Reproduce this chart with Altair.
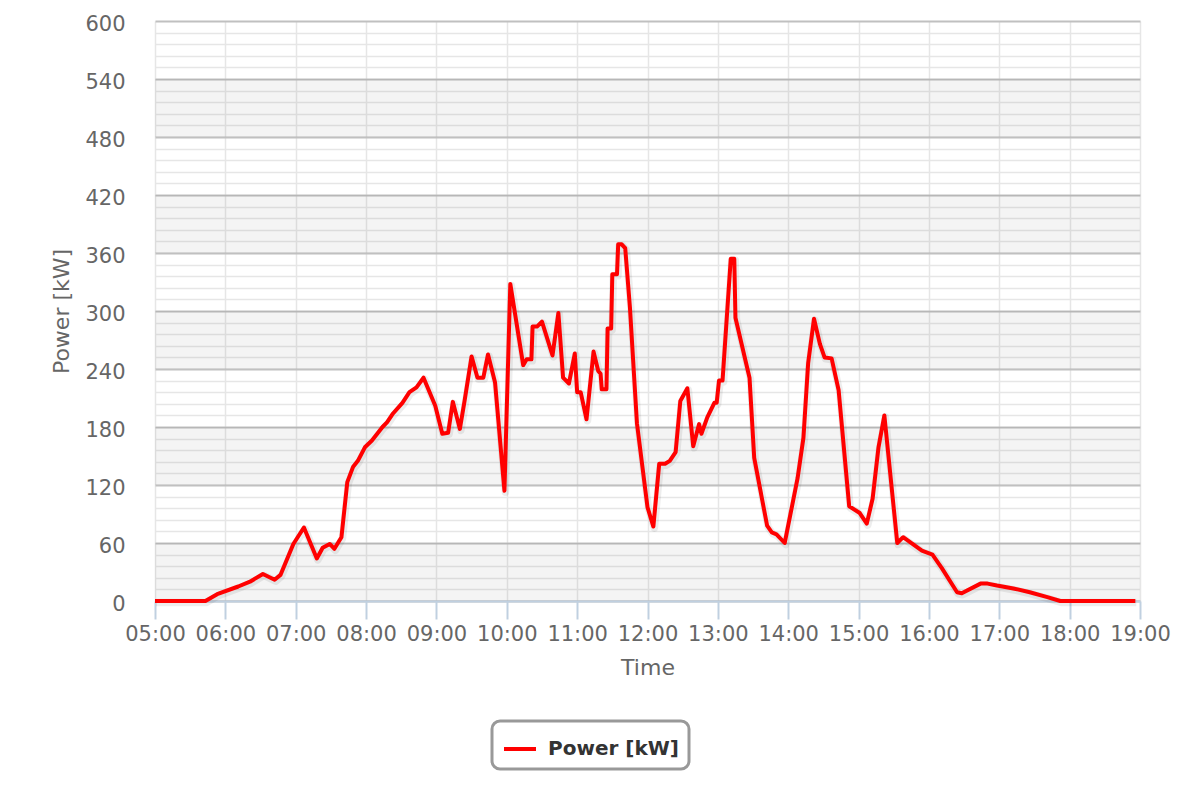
import altair as alt
import pandas as pd

# ---- data ----
times = [
    "05:00", "05:43", "05:53", "06:11", "06:21", "06:32", "06:42", "06:47", "06:58", "07:07",
    "07:18", "07:23", "07:29", "07:33", "07:39", "07:44", "07:49", "07:53", "07:59", "08:05",
    "08:14", "08:18", "08:23", "08:31", "08:37", "08:43", "08:49", "08:59", "09:05", "09:10",
    "09:14", "09:20", "09:24", "09:30", "09:35", "09:40", "09:44", "09:50", "09:58", "10:03",
    "10:14", "10:17", "10:21", "10:22", "10:26", "10:30", "10:39", "10:44", "10:48", "10:53",
    "10:58", "11:00", "11:03", "11:08", "11:14", "11:18", "11:20", "11:21", "11:25", "11:26",
    "11:29", "11:30", "11:34", "11:35", "11:38", "11:41", "11:45", "11:51", "12:00", "12:05",
    "12:10", "12:15", "12:19", "12:24", "12:28", "12:34", "12:39", "12:44", "12:46", "12:51",
    "12:57", "12:59", "13:01", "13:04", "13:11", "13:14", "13:15", "13:27", "13:31", "13:42",
    "13:46", "13:50", "13:57", "14:08", "14:13", "14:17", "14:22", "14:27", "14:31", "14:37",
    "14:43", "14:52", "15:01", "15:07", "15:12", "15:17", "15:22", "15:33", "15:38", "15:54",
    "16:03", "16:11", "16:24", "16:28", "16:44", "16:50", "16:58", "17:12", "17:26", "17:41",
    "17:52", "18:56",
]
power = [
    0, 0, 7, 15, 20, 28, 22, 27, 59, 76,
    44, 55, 59, 54, 66, 123, 139, 145, 159, 166,
    180, 185, 194, 205, 216, 221, 231, 202, 173, 174,
    206, 178, 207, 253, 231, 231, 255, 226, 114, 328,
    244, 250, 250, 284, 284, 289, 254, 298, 231, 225,
    256, 216, 216, 188, 258, 238, 235, 219, 219, 282,
    282, 338, 338, 369, 369, 365, 304, 184, 97, 77,
    142, 142, 145, 154, 207, 220, 160, 183, 173, 190,
    205, 205, 228, 228, 354, 354, 293, 231, 148, 78,
    71, 69, 60, 127, 169, 246, 292, 266, 252, 251,
    218, 98, 91, 80, 106, 159, 192, 60, 66, 52,
    48, 34, 9, 8, 18, 18, 16, 13, 9, 4,
    0, 0,
]
series_name = "Power [kW]"
x_ticks = list(range(5, 20))                       # 05:00 .. 19:00
y_major = list(range(0, 601, 60))
y_minor = [v for v in range(0, 601, 12) if v % 60]
band_lo = [0, 120, 240, 360, 480]
band_hi = [60, 180, 300, 420, 540]


def to_hours(s):
    h, m = s.split(":")
    return int(h) + int(m) / 60.0


df = pd.DataFrame({
    "hour": [to_hours(t) for t in times],
    "power": power,
    "series": series_name,
})
bands = pd.DataFrame({"lo": band_lo, "hi": band_hi})

FONT = "DejaVu Sans"
LABEL_COLOR = "#666666"

xscale = alt.Scale(domain=[5, 19], nice=False, zero=False)
yscale = alt.Scale(domain=[0, 600], nice=False)

x_axis = alt.Axis(
    values=x_ticks,
    labelExpr="(datum.value < 10 ? '0' : '') + datum.value + ':00'",
    title="Time", grid=True, gridColor="#e6e6e6", gridWidth=1.5,
    domainColor="#c0d0e0", domainWidth=2, tickColor="#c0d0e0", tickWidth=2,
    tickSize=18, labelPadding=4, labelFontSize=21, labelColor=LABEL_COLOR,
    labelFont=FONT, labelFlush=False, labelOverlap=False,
    titleFont=FONT, titleFontSize=22, titleColor=LABEL_COLOR,
    titleFontWeight="normal", titleY=73, titleBaseline="alphabetic",
)

band_layer = alt.Chart(bands).mark_rect(fill="#000000", opacity=0.045).encode(
    y=alt.Y(
        "lo:Q", scale=yscale,
        axis=alt.Axis(orient="right", values=y_minor, labels=False, ticks=False,
                      domain=False, title=None, grid=True, gridColor="#e6e6e6",
                      gridWidth=1.5),
    ),
    y2="hi:Q",
)

shadow = alt.Chart(df).mark_line(
    stroke="#000000", strokeOpacity=0.07, strokeWidth=7.5, xOffset=1, yOffset=1.5,
    strokeJoin="round",
).encode(
    x=alt.X("hour:Q", scale=xscale, axis=x_axis),
    y=alt.Y("power:Q", scale=yscale, axis=None),
)

line = alt.Chart(df).mark_line(strokeWidth=4, strokeJoin="round").encode(
    x=alt.X("hour:Q", scale=xscale, axis=x_axis),
    y=alt.Y(
        "power:Q", scale=yscale,
        axis=alt.Axis(
            orient="left", values=y_major, grid=True, gridColor="#c0c0c0", gridWidth=2,
            domain=False, ticks=False, tickSize=0, labelPadding=30, labelFontSize=21,
            labelColor=LABEL_COLOR, labelFont=FONT, labelOffset=3,
            title="Power [kW]", titleFont=FONT, titleFontSize=22, titleColor=LABEL_COLOR,
            titleFontWeight="normal", titleX=-87, titleY=290, titleAngle=-90,
            titleBaseline="alphabetic", titleAlign="center",
        ),
    ),
    color=alt.Color(
        "series:N",
        scale=alt.Scale(domain=[series_name], range=["#ff0000"]),
        legend=alt.Legend(
            title=None, orient="none", legendX=337, legendY=700,
            symbolType="stroke", symbolStrokeWidth=4, symbolSize=1024,
            labelFont=FONT, labelFontSize=20, labelFontWeight="bold",
            labelColor="#333333", labelOffset=10, padding=10,
            strokeColor="#999999", cornerRadius=8, fillColor="#ffffff",
        ),
    ),
)

chart = (
    alt.layer(band_layer, shadow, line)
    .resolve_axis(y="independent")
    .properties(
        width=985, height=580,
        padding={"left": 147, "top": 13, "right": 50, "bottom": 190},
        autosize=alt.AutoSizeParams(type="none"),
    )
    .configure(background="#ffffff")
    .configure_view(stroke=None)
    .configure_legend(strokeWidth=3)
)

chart.save("out.html", embed_options={"renderer": "svg", "actions": False})
